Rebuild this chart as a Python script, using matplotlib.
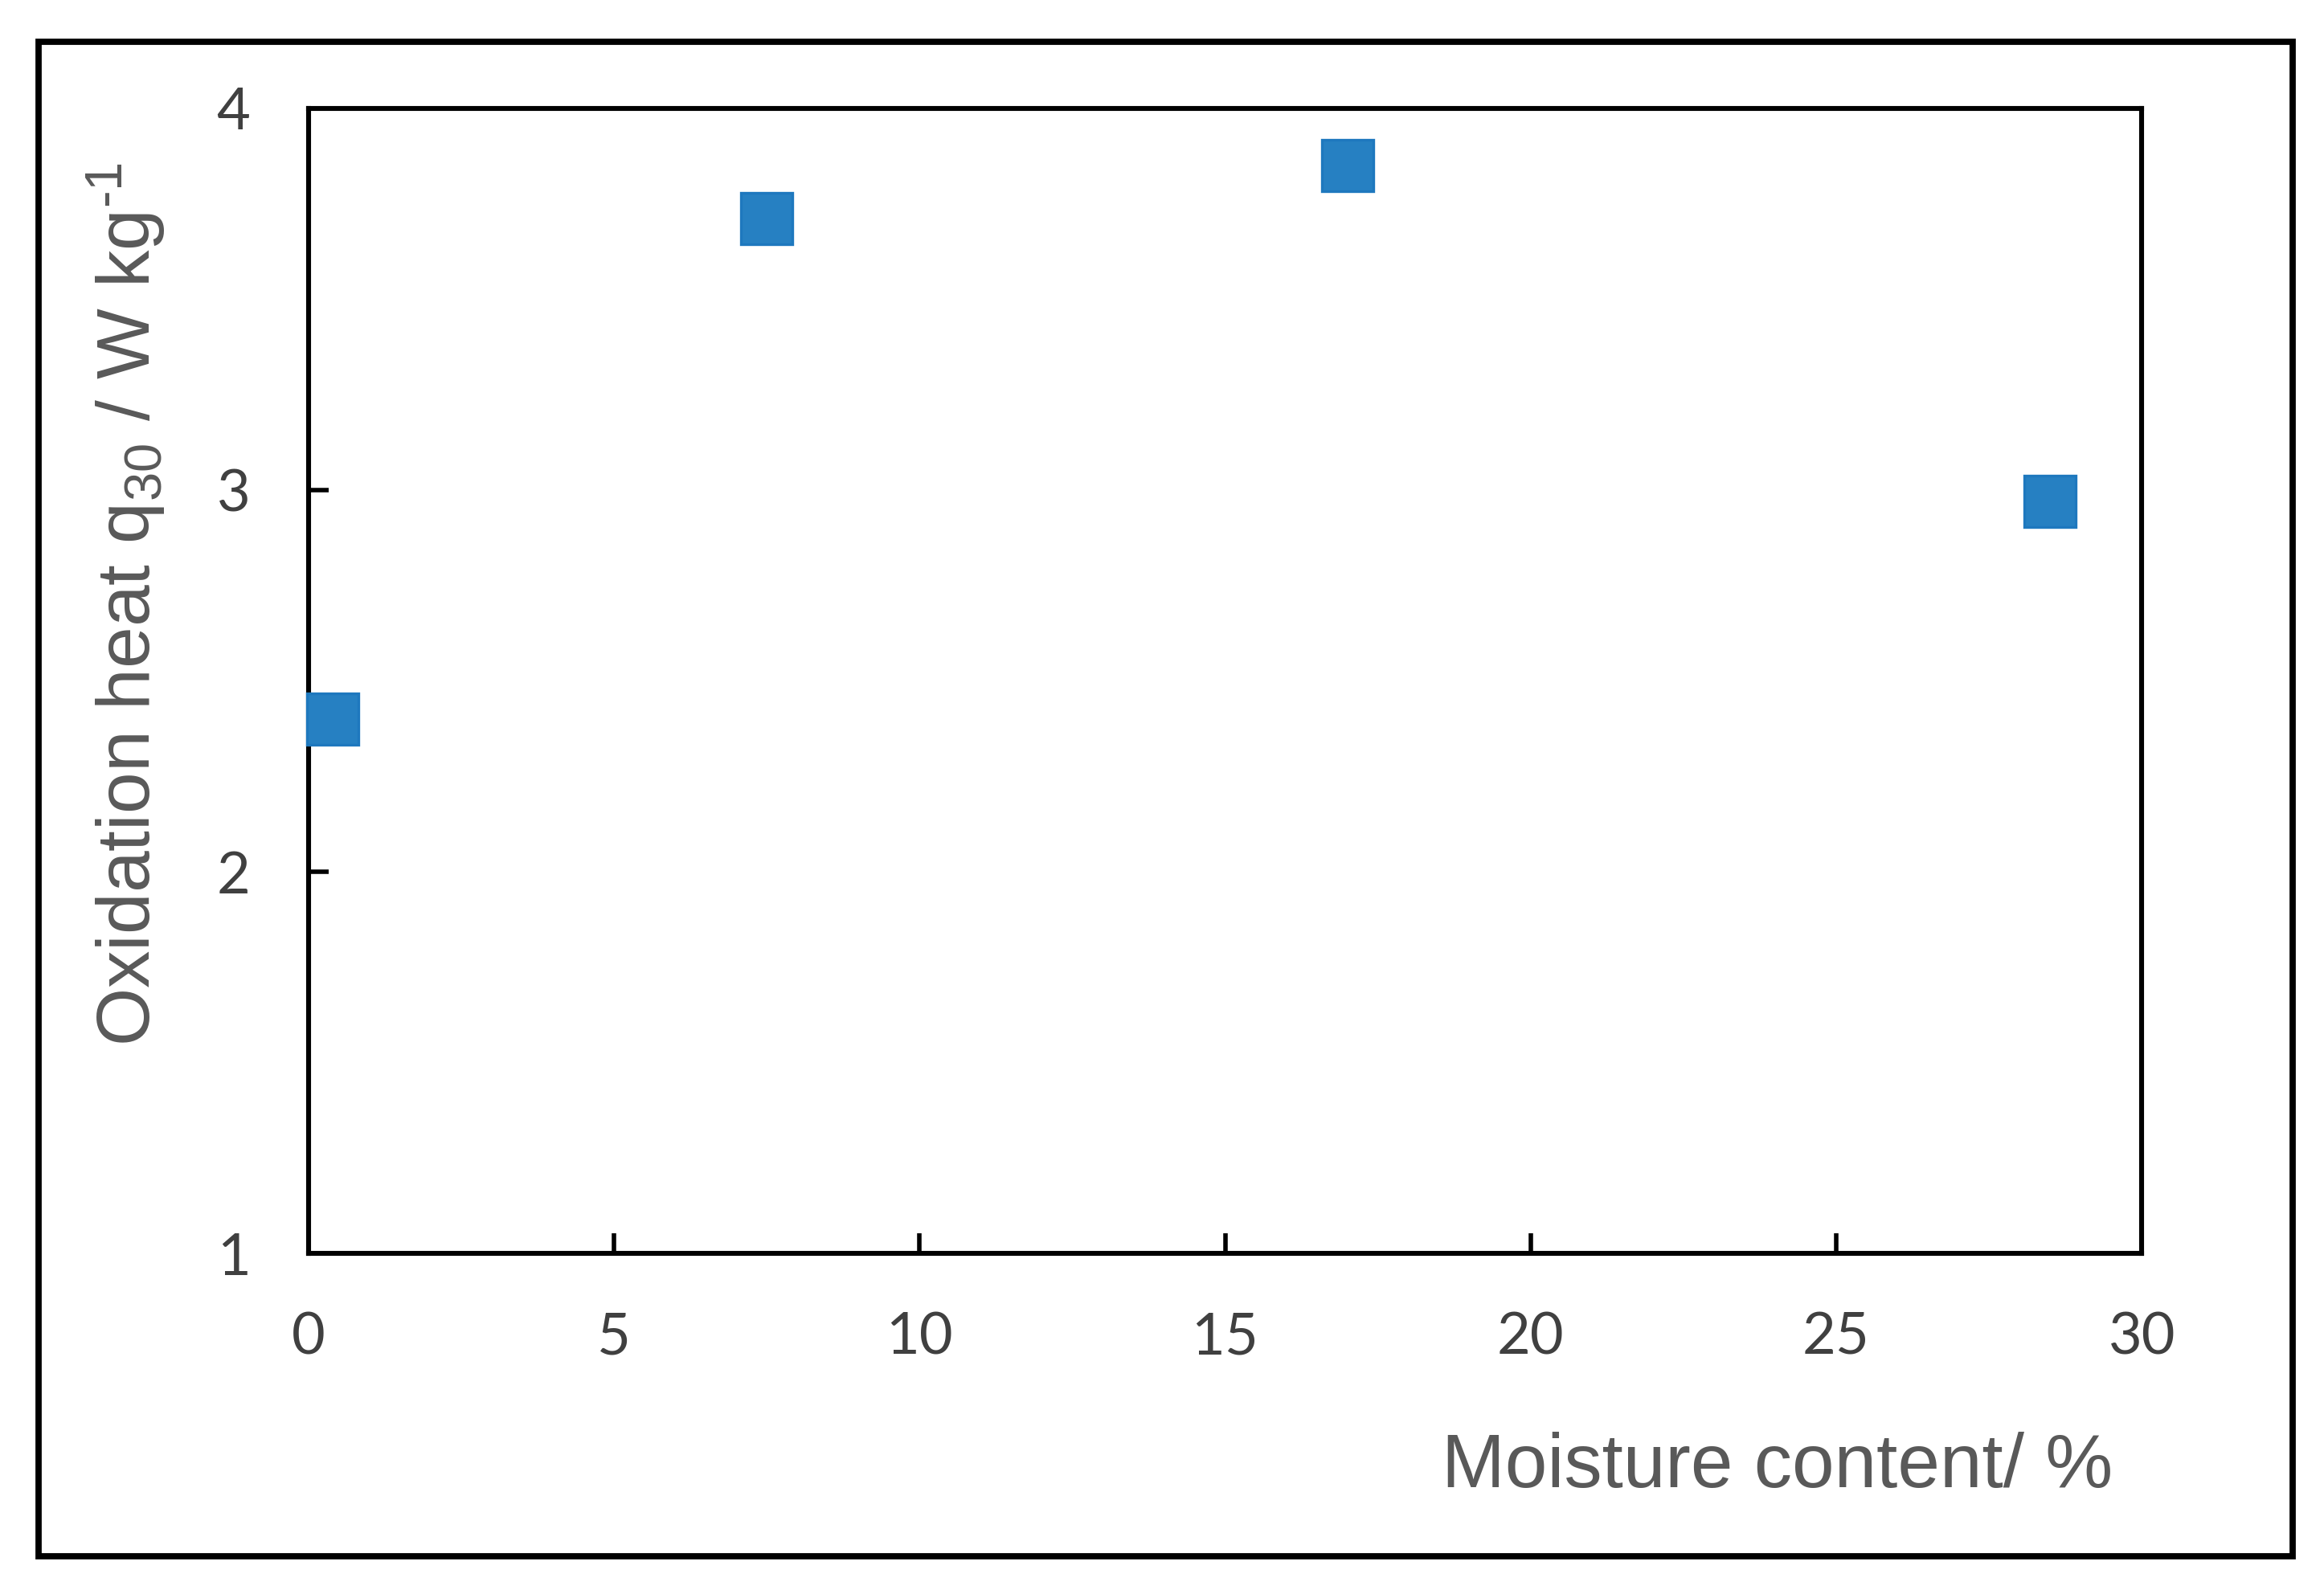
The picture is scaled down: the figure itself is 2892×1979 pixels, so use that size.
import matplotlib
matplotlib.use("Agg")
import matplotlib.pyplot as plt
from matplotlib.patches import Rectangle

# Data
moisture = [0.4, 7.5, 17.0, 28.5]
heat = [2.40, 3.71, 3.85, 2.97]
x_ticks = [0, 5, 10, 15, 20, 25, 30]
y_ticks = [1, 2, 3, 4]
x_label = "Moisture content/ %"
y_label = "Oxidation heat q$_{30}$ / W kg$^{\u2010" + "1}$"

plt.rcParams['mathtext.fontset'] = 'custom'
plt.rcParams['mathtext.rm'] = 'Liberation Sans'
plt.rcParams['mathtext.it'] = 'Liberation Sans'
plt.rcParams['mathtext.default'] = 'regular'

fig = plt.figure(figsize=(14.46, 9.895), dpi=200)
ax = fig.add_axes([0.1327, 0.2116, 0.9216 - 0.1327, 0.932 - 0.2116])

ax.plot(moisture, heat, linestyle='none', marker='s', markersize=23,
        markerfacecolor='#2680C2', markeredgecolor='#1E78BE', markeredgewidth=1.2,
        clip_on=False, zorder=5)

ax.set_xlim(0, 30)
ax.set_ylim(1, 4)
ax.set_xticks(x_ticks)
ax.set_yticks(y_ticks)
ax.set_xticklabels([str(t) for t in x_ticks])
ax.set_yticklabels([str(t) for t in y_ticks])

for sp in ax.spines.values():
    sp.set_linewidth(2.2)
    sp.set_color('black')

ax.tick_params(axis='both', direction='in', length=9, width=2.0, color='black',
               labelsize=26, labelcolor='#404040', pad=26)
ax.tick_params(top=False, right=False)
for lab in ax.get_xticklabels() + ax.get_yticklabels():
    lab.set_fontfamily('Lato')

ax.set_xlabel(x_label, fontsize=34, color='#595959', fontfamily='Liberation Sans',
              ha='right', va='center')
ax.xaxis.set_label_coords(0.984, -0.187)
ax.set_ylabel(y_label, fontsize=33.5, color='#595959', fontfamily='Liberation Sans',
              ha='center', va='center')
ax.yaxis.set_label_coords(-0.0994, 0.567)

# Outer frame
frame = Rectangle((0.01658, 0.02144), 0.9866 - 0.01658, 0.9739 - 0.02144,
                  transform=fig.transFigure, fill=False, edgecolor='black',
                  linewidth=2.8, zorder=10)
fig.patches.append(frame)

fig.savefig("out.png", dpi=200, facecolor='white')
